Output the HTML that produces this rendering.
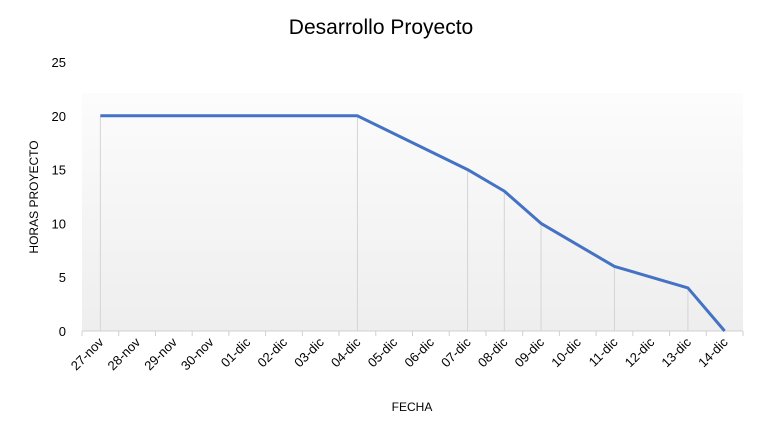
<!DOCTYPE html>
<html><head><meta charset="utf-8"><style>
body{margin:0;background:#fff;font-family:"Liberation Sans",sans-serif}
svg text{font-family:"Liberation Sans",sans-serif;fill:#000}
</style></head><body>
<svg id="c" width="762" height="430">
<defs><linearGradient id="g" x1="0" y1="0" x2="0" y2="1"><stop offset="0" stop-color="#fcfcfc"/><stop offset="1" stop-color="#eeeeee"/></linearGradient></defs>
<text x="381" y="34" text-anchor="middle" font-size="21">Desarrollo  Proyecto</text>
<rect x="82" y="93" width="661" height="238" fill="url(#g)"/>
<g id="axes"></g><g id="marks"></g>
<text x="412" y="411" text-anchor="middle" font-size="12">FECHA</text>
<text transform="translate(38,197) rotate(-90)" text-anchor="middle" font-size="12">HORAS PROYECTO</text>
</svg>
<script>
const categories=["27-nov","28-nov","29-nov","30-nov","01-dic","02-dic","03-dic","04-dic","05-dic","06-dic","07-dic","08-dic","09-dic","10-dic","11-dic","12-dic","13-dic","14-dic"];
const hours=[20,null,null,null,null,null,null,20,null,null,15,13,10,null,6,null,4,0];
const yTicks=[0,5,10,15,20,25];
const NS="http://www.w3.org/2000/svg";
const L=82,R=743,Y0=331,Ymax=62;
const step=(R-L)/categories.length;
const x=i=>L+step*(i+0.5);
const y=v=>Y0-(v/25)*(Y0-Ymax);
function mk(t,a,p){const e=document.createElementNS(NS,t);for(const k in a)e.setAttribute(k,a[k]);p.appendChild(e);return e;}
const ax=document.getElementById('axes'),mg=document.getElementById('marks');
yTicks.forEach(v=>{const t=mk('text',{x:66,y:y(v)+5,'text-anchor':'end','font-size':13},ax);t.textContent=v;

});
const base=mk('line',{x1:L,x2:R,y1:Y0,y2:Y0,stroke:'#d0d0d0'},ax);


categories.forEach((c,i)=>{
const tk=mk('line',{x1:L+step*i,x2:L+step*i,y1:Y0,y2:Y0+5,stroke:'#d0d0d0'},ax);


const t=mk('text',{x:x(i)+4,y:Y0+12,'text-anchor':'end','font-size':13,transform:`rotate(-45 ${x(i)+4} ${Y0+12})`},ax);t.textContent=c;

});
mk('line',{x1:R,x2:R,y1:Y0,y2:Y0+5,stroke:'#d0d0d0'},ax);
let pts=[];
hours.forEach((v,i)=>{if(v===null)return;pts.push(x(i)+','+y(v));
const d=mk('line',{x1:x(i),x2:x(i),y1:y(v),y2:Y0,stroke:'#d4d4d4'},mg);

});
const pl=mk('polyline',{points:pts.join(' '),fill:'none',stroke:'#4472c4','stroke-width':3,'stroke-linejoin':'round'},mg);


</script>
</body></html>
